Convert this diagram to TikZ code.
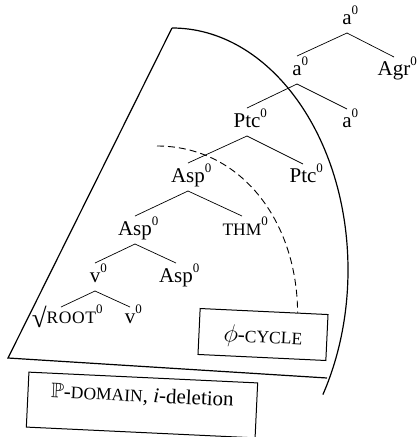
\documentclass[tikz,border=0pt]{standalone}
\usepackage{amssymb}
\usepackage{fontspec}
\setmainfont{Liberation Serif}
\usetikzlibrary{calc}
\newcommand{\zr}[1]{#1\rlap{\raisebox{0.43em}{\fontsize{13}{13}\selectfont 0}}}
\newcommand{\smc}[1]{{\fontsize{17.5}{20}\selectfont #1}}
\tikzset{
  lbl/.style={anchor=base,inner sep=0pt},
  branch/.style={line width=0.7pt},
  rim/.style={line width=1.2pt},
  tagbox/.style={draw,line width=1pt,rotate=-2.7,inner sep=0pt},
}

\begin{document}
\begin{tikzpicture}[x=1pt,y=-1pt,font=\fontsize{21}{25}\selectfont]
\useasboundingbox (0,0) rectangle (417,437);
% outer domain
\draw[rim] (172,28) -- (8,358) -- (327,378);
\draw[rim] (172,28) arc[start angle=90,end angle=-31,x radius=176pt,y radius=242pt];
% the tree
\node[lbl] (aT) at (347,24) {\zr{a}};
\node[lbl] (aL) at (297,75) {\zr{a}};
\node[lbl] (agr) at (394,75) {\zr{Agr}};
\node[lbl] (ptcL) at (247,127) {\zr{Ptc}};
\node[lbl] (aR) at (347,127) {\zr{a}};
\node[lbl] (aspA) at (188,182) {\zr{Asp}};
\node[lbl] (ptcR) at (303,182) {\zr{Ptc}};
\node[lbl] (aspB) at (135,235) {\zr{Asp}};
\node[lbl] (thm) at (242,235) {\zr{\smc{THM}}};
\node[lbl] (vL) at (95,282) {\zr{v}};
\node[lbl] (aspC) at (176,282) {\zr{Asp}};
\node[lbl] (root) at (64,323) {\zr{\raisebox{-0.2em}{\fontsize{27}{27}\selectfont √}\smc{R\kern0.6pt O\kern0.6pt O\kern0.6pt T}}};
\node[lbl] (vR) at (130,323) {\zr{v}};
\draw[branch] ([yshift=-9pt]aT.base) -- ([yshift=19pt]aL.base);
\draw[branch] ([yshift=-9pt]aT.base) -- ([yshift=18pt]agr.base);
\draw[branch] ([yshift=-9pt]aL.base) -- ([yshift=19pt]ptcL.base);
\draw[branch] ([yshift=-9pt]aL.base) -- ([yshift=18pt]aR.base);
\draw[branch] ([yshift=-9pt]ptcL.base) -- ([yshift=19pt]aspA.base);
\draw[branch] ([yshift=-9pt]ptcL.base) -- ([yshift=18pt]ptcR.base);
\draw[branch] ([yshift=-9pt]aspA.base) -- ([yshift=19pt]aspB.base);
\draw[branch] ([yshift=-9pt]aspA.base) -- ([yshift=19pt]thm.base);
\draw[branch] ([yshift=-9pt]aspB.base) -- ([yshift=19pt]vL.base);
\draw[branch] ([yshift=-9pt]aspB.base) -- ([yshift=19pt]aspC.base);
\draw[branch] ([yshift=-9pt]vL.base) -- ([yshift=16pt,xshift=-3pt]root.base);
\draw[branch] ([yshift=-9pt]vL.base) -- ([yshift=16pt]vR.base);
% labelled boxes
\node[tagbox,minimum width=128pt,minimum height=46pt,text height=19pt,text depth=2pt] (cyc) at (263,334.5) {\fontsize{23}{23}\selectfont$\phi$\fontsize{21}{25}\selectfont-\smc{CYCLE}\hspace{6pt}};
\node[tagbox,minimum width=229pt,minimum height=55pt,text height=15pt,text depth=21pt] (pdom) at (142,405) {$\mathbb{P}$-\smc{DOMAIN}, \textit{i}-deletion};
% inner cycle
\coordinate (cutA) at (157,146);
\draw[dash pattern=on 7pt off 4pt,line width=0.9pt] (cutA) .. controls (240,146) and (297,220) .. ($(cyc.north west)!0.76!(cyc.north east)$);
\end{tikzpicture}
\end{document}
